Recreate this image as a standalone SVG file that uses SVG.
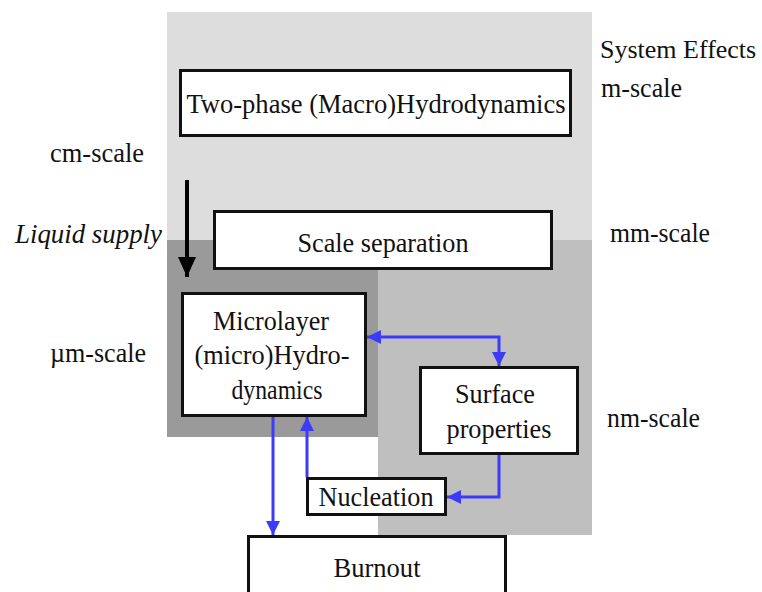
<svg xmlns="http://www.w3.org/2000/svg" width="762" height="592" viewBox="0 0 762 592">
<style>
.box{fill:#ffffff;stroke:#111111;stroke-width:3}
.t{font-family:"Liberation Serif","Times New Roman",serif;font-size:27.5px;fill:#111111}
.c{text-anchor:middle}
.blue{fill:none;stroke:#3c3cf8;stroke-width:3}
</style>
<defs>
<marker id="bh" viewBox="0 0 14 14" refX="14" refY="7" markerWidth="14" markerHeight="14" markerUnits="userSpaceOnUse" orient="auto-start-reverse">
<path d="M0,0 L14,7 L0,14 Z" fill="#3c3cf8"/>
</marker>
<marker id="kh" viewBox="0 0 20 18" refX="20" refY="9" markerWidth="20" markerHeight="18" markerUnits="userSpaceOnUse" orient="auto">
<path d="M0,0 L20,9 L0,18 Z" fill="#000000"/>
</marker>
</defs>
<rect width="762" height="592" fill="#ffffff"/>
<g id="background">
<rect x="167" y="12" width="425" height="228" fill="#dddddd"/>
<rect x="378" y="240" width="214" height="295" fill="#bfbfbf"/>
<rect x="167" y="240" width="211" height="197" fill="#9a9a9a"/>
</g>
<g id="labels">
<text class="t" x="600" y="58" font-size="26" style="font-size:26px">System Effects</text>
<text class="t" x="601" y="97" textLength="81" lengthAdjust="spacingAndGlyphs">m-scale</text>
<text class="t" x="50" y="162" textLength="94" lengthAdjust="spacingAndGlyphs">cm-scale</text>
<text class="t" x="15" y="243" font-style="italic" textLength="147" lengthAdjust="spacingAndGlyphs">Liquid supply</text>
<text class="t" x="610" y="242" textLength="100" lengthAdjust="spacingAndGlyphs">mm-scale</text>
<text class="t" x="50" y="362" textLength="96" lengthAdjust="spacingAndGlyphs">µm-scale</text>
<text class="t" x="607" y="427" textLength="93" lengthAdjust="spacingAndGlyphs">nm-scale</text>
</g>
<g id="node-twophase">
<rect class="box" x="180.5" y="70.5" width="390" height="65"/>
<text class="t c" x="376" y="113" textLength="379" lengthAdjust="spacingAndGlyphs">Two-phase (Macro)Hydrodynamics</text>
</g>
<g id="node-scalesep">
<rect class="box" x="214.5" y="211.5" width="337" height="57"/>
<text class="t c" x="383" y="252" textLength="171" lengthAdjust="spacingAndGlyphs">Scale separation</text>
</g>
<g id="node-microlayer">
<rect class="box" x="182.5" y="293.5" width="183" height="122"/>
<text class="t c" x="271" y="330" textLength="116" lengthAdjust="spacingAndGlyphs">Microlayer</text>
<text class="t c" x="272" y="364" textLength="155" lengthAdjust="spacingAndGlyphs">(micro)Hydro-</text>
<text class="t c" x="277" y="399" textLength="91" lengthAdjust="spacingAndGlyphs">dynamics</text>
</g>
<g id="node-surface">
<rect class="box" x="420.5" y="367.5" width="157" height="86"/>
<text class="t c" x="495" y="403" textLength="80" lengthAdjust="spacingAndGlyphs">Surface</text>
<text class="t c" x="499" y="438" textLength="105" lengthAdjust="spacingAndGlyphs">properties</text>
</g>
<g id="node-nucleation">
<rect class="box" x="307.5" y="478.5" width="138" height="36"/>
<text class="t c" x="376" y="506" textLength="115" lengthAdjust="spacingAndGlyphs">Nucleation</text>
</g>
<g id="node-burnout">
<rect class="box" x="248.5" y="536.5" width="257" height="70"/>
<text class="t c" x="377" y="577" textLength="87" lengthAdjust="spacingAndGlyphs">Burnout</text>
</g>
<g id="connectors">
<path d="M187,180 V277" stroke="#000000" stroke-width="4" fill="none" marker-end="url(#kh)"/>
<path class="blue" d="M367,337 H499 V366" marker-start="url(#bh)" marker-end="url(#bh)"/>
<path class="blue" d="M273,417 V535" marker-end="url(#bh)"/>
<path class="blue" d="M307,477 V417" marker-end="url(#bh)"/>
<path class="blue" d="M499,455 V497 H447" marker-end="url(#bh)"/>
</g>
</svg>
